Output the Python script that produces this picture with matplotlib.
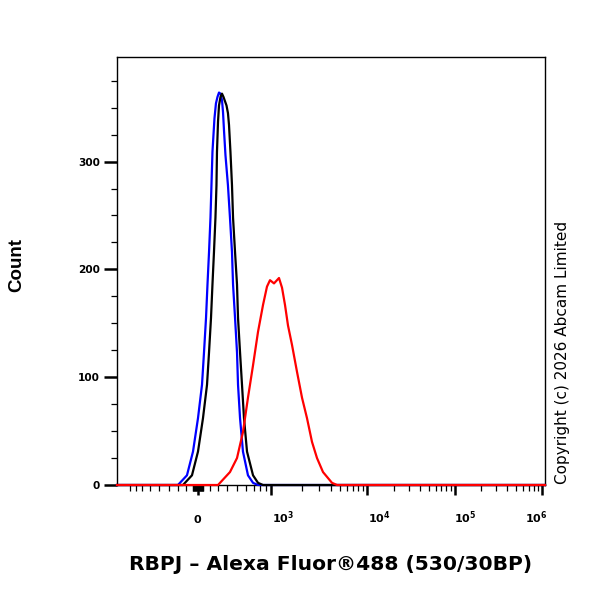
import numpy as np
import matplotlib
matplotlib.use('Agg')
import matplotlib.pyplot as plt
from matplotlib import transforms

plt.rcParams['font.family'] = ['Liberation Sans', 'DejaVu Sans']
plt.rcParams['mathtext.fontset'] = 'dejavusans'
plt.rcParams['mathtext.default'] = 'bf'

# histogram traces (fluorescence intensity, count)
blue_x = [-299, -186, -93, 0, 76, 110, 142, 164, 186, 206, 219, 232, 257, 275, 293,
          310, 327, 343, 354, 364.5, 380, 406, 427, 448, 459, 480, 501, 512, 534,
          567, 627, 693, 765]
blue_y = [0, 9, 31, 62, 93, 123, 155, 186, 216, 248, 278, 309, 340, 354, 360,
          364, 363, 357, 346, 329, 306, 278, 248, 216, 186, 155, 123, 93, 62,
          31, 9, 2, 0]

black_x = [-239, -110, 0, 93, 157, 186, 213, 232, 251, 269, 281, 287, 299, 310, 327,
           343, 359, 375, 391, 406, 417, 432, 448, 459, 480, 501, 512, 534, 556,
           579, 615, 693, 765, 846]
black_y = [0, 9, 31, 62, 93, 123, 155, 186, 216, 248, 278, 309, 337, 352, 360,
           363, 360, 356, 352, 345, 334, 309, 278, 248, 216, 186, 155, 123, 93,
           62, 31, 9, 2, 0]

red_x = [299, 427, 501, 567, 627, 693, 765, 846, 917, 976, 1061, 1180, 1260, 1345,
         1437, 1572, 1762, 1979, 2225, 2507, 2828, 3275, 4091, 4637]
red_y = [0, 12, 25, 49, 81, 111, 142, 167, 184, 190, 187, 192,
         183, 167, 148, 130, 105, 81, 62, 40, 25, 12, 2, 0]

x_major = [0, 1e3, 1e4, 1e5, 1e6]
x_labels = [r'$\mathbf{0}$', r'$\mathbf{10^{3}}$', r'$\mathbf{10^{4}}$',
            r'$\mathbf{10^{5}}$', r'$\mathbf{10^{6}}$']
label_shift = [0, 12, 12, 10, -6]   # pixels, as placed in the original
y_major = [0, 100, 200, 300]

XMIN, XMAX = -1180, 1.0825e6
YMAX = 397


# biexponential-like display transform (FlowJo style axis)
def biex(u):
    u = np.asarray(u, dtype=float)
    a = np.abs(u)
    v = 111 * (np.exp(0.02647 * a) - 1) + 350 * (1 - np.exp(-0.05 * a))
    return np.sign(u) * v


_U = np.linspace(-120, 380, 20001)
_X = biex(_U)


def fwd(x):
    return np.interp(np.asarray(x, dtype=float), _X, _U)


def inv(u):
    return biex(u)


fig = plt.figure(figsize=(6, 6), dpi=100)
ax = fig.add_axes([117 / 600, 1 - 485 / 600, 428 / 600, 428 / 600])
ax.set_xscale('function', functions=(fwd, inv))

for xs, ys, col in [(blue_x, blue_y, '#0000ff'), (black_x, black_y, 'black'),
                    (red_x, red_y, '#ff0000')]:
    xx = np.r_[XMIN, xs, XMAX]
    yy = np.r_[0, ys, 0]
    ax.plot(xx, yy, color=col, lw=1.6, zorder=3, clip_on=False)

ax.set_xlim(XMIN, XMAX)
ax.set_ylim(0, YMAX)

# x ticks
minor = []
for k in range(1, 10):
    minor += [-10 * k, 10 * k, -100 * k, 100 * k]
for p in [3, 4, 5]:
    minor += [k * 10 ** p for k in range(2, 10)]
minor = [m for m in minor if XMIN < m < XMAX]
ax.set_xticks(x_major)
ax.set_xticklabels([''] * len(x_major))
ax.set_xticks(minor, minor=True)
ax.tick_params(axis='x', which='major', length=7, width=1.8, direction='out')
ax.tick_params(axis='x', which='minor', length=4.3, width=0.9, direction='out')

trans = transforms.blended_transform_factory(ax.transData, ax.transAxes)
for xv, lab, sh in zip(x_major, x_labels, label_shift):
    off = transforms.ScaledTranslation(sh / 100, -38 / 100, fig.dpi_scale_trans)
    ax.text(xv, 0, lab, transform=trans + off, ha='center', va='baseline',
            fontsize=8)

# y ticks
ax.set_yticks(y_major)
ax.set_yticklabels([str(v) for v in y_major], fontsize=7.6, fontweight='bold',
                   family='DejaVu Sans')
ax.set_yticks(np.arange(25, YMAX, 25), minor=True)
ax.tick_params(axis='y', which='major', length=9.5, width=1.8, pad=3)
ax.tick_params(axis='y', which='minor', length=4.3, width=0.9)

for s in ax.spines.values():
    s.set_linewidth(1.0)

fig.text(17 / 600, 1 - 265 / 600, 'Count', rotation=90, ha='center', va='center',
         fontsize=13.5, fontweight='bold')
fig.text(331 / 600, 1 - 565 / 600, 'RBPJ \u2013 Alexa Fluor\u00ae488 (530/30BP)',
         ha='center', va='center', fontsize=14.6, fontweight='bold',
         family='DejaVu Sans')
fig.text(563 / 600, 1 - 352 / 600, 'Copyright (c) 2026 Abcam Limited', rotation=90,
         ha='center', va='center', fontsize=11, family='DejaVu Sans')

fig.savefig('out.png', dpi=100)
